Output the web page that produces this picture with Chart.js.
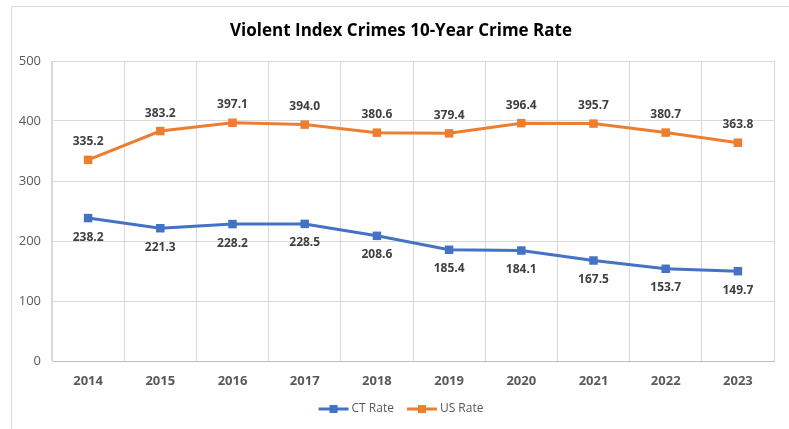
<!DOCTYPE html>
<html>
<head>
<meta charset="utf-8">
<script src="https://cdn.jsdelivr.net/npm/chart.js@4/dist/chart.umd.min.js"></script>
<style>
  html, body { margin: 0; padding: 0; background: #fff; }
  #wrap { position: relative; width: 789px; height: 429px; }
</style>
</head>
<body>
<div id="wrap"><canvas id="myChart" width="789" height="429"></canvas></div>
<script>
const years = ["2014", "2015", "2016", "2017", "2018", "2019", "2020", "2021", "2022", "2023"];
const ctRate = [238.2, 221.3, 228.2, 228.5, 208.6, 185.4, 184.1, 167.5, 153.7, 149.7];
const usRate = [335.2, 383.2, 397.1, 394.0, 380.6, 379.4, 396.4, 395.7, 380.7, 363.8];
const yTicks = [0, 100, 200, 300, 400, 500];

const blue = "#4472C4";
const orange = "#ED7D31";
const font = "'Open Sans', sans-serif";
const titleText = "Violent Index Crimes 10-Year Crime Rate";

// outer frame, title and legend drawn around the plot
const frame = {
  id: "frame",
  beforeDraw(chart) {
    const c = chart.ctx;
    c.save();
    c.fillStyle = "#fff";
    c.fillRect(0, 0, chart.width, chart.height);
    c.strokeStyle = "#d9d9d9";
    c.lineWidth = 1;
    c.beginPath();
    c.moveTo(11.5, chart.height);
    c.lineTo(11.5, 6.5);
    c.lineTo(chart.width, 6.5);
    c.stroke();
    c.restore();
  },
  afterDraw(chart) {
    const c = chart.ctx;
    const mid = 401;
    c.save();
    // title
    c.font = "bold 17px " + font;
    c.fillStyle = "#000";
    c.textAlign = "center";
    c.textBaseline = "middle";
    c.fillText(titleText, mid, 31);

    // legend: line + square swatch, then the series name
    c.font = "12px " + font;
    c.textAlign = "left";
    const sw = 30, gap = 3, between = 13, y = 409;
    const items = chart.data.datasets.map(ds => ({
      text: ds.label, color: ds.borderColor, w: c.measureText(ds.label).width
    }));
    let total = items.reduce((s, it) => s + sw + gap + it.w, 0) + between * (items.length - 1);
    let x = mid - total / 2;
    items.forEach(it => {
      c.strokeStyle = it.color;
      c.lineWidth = 3;
      c.beginPath();
      c.moveTo(x, y);
      c.lineTo(x + sw, y);
      c.stroke();
      c.fillStyle = it.color;
      c.fillRect(x + sw / 2 - 4, y - 4, 8, 8);
      c.fillStyle = "#595959";
      c.fillText(it.text, x + sw + gap, y);
      x += sw + gap + it.w + between;
    });
    c.restore();
  }
};

// value labels: above the orange points, below the blue ones
const valueLabels = {
  id: "valueLabels",
  afterDatasetsDraw(chart) {
    const c = chart.ctx;
    c.save();
    c.font = "bold 12px " + font;
    c.fillStyle = "#404040";
    c.textAlign = "center";
    c.textBaseline = "middle";
    chart.data.datasets.forEach((ds, i) => {
      const meta = chart.getDatasetMeta(i);
      meta.data.forEach((pt, j) => {
        const dy = ds.labelBelow ? 19 : -18;
        c.fillText(ds.data[j].toFixed(1), pt.x, pt.y + dy);
      });
    });
    c.restore();
  }
};

let ctx = document.getElementById("myChart").getContext("2d");
let myChart = new Chart(ctx, {
  type: "line",
  data: {
    labels: years,
    datasets: [
      {
        label: "CT Rate",
        data: ctRate,
        borderColor: blue,
        backgroundColor: blue,
        borderWidth: 3,
        pointStyle: "rect",
        pointRadius: 6,
        pointBorderWidth: 0,
        labelBelow: true,
      },
      {
        label: "US Rate",
        data: usRate,
        borderColor: orange,
        backgroundColor: orange,
        borderWidth: 3,
        pointStyle: "rect",
        pointRadius: 6,
        pointBorderWidth: 0,
        labelBelow: false,
      },
    ],
  },
  options: {
    responsive: false,
    animation: false,
    layout: { padding: { left: 12, right: 15, top: 61, bottom: 32 } },
    plugins: {
      title: { display: false },
      legend: { display: false },
      tooltip: { enabled: false },
    },
    scales: {
      x: {
        offset: true,
        grid: { offset: true, color: "#d9d9d9", drawTicks: false },
        border: { color: "#bfbfbf" },
        ticks: {
          padding: 12,
          color: "#595959",
          font: { family: font, size: 13, weight: "bold" },
        },
        afterFit(scale) { scale.height = 36; },
      },
      y: {
        min: 0,
        max: 500,
        afterBuildTicks(scale) { scale.ticks = yTicks.map(v => ({ value: v })); },
        grid: { color: "#d9d9d9", drawTicks: false },
        border: { color: "#d9d9d9" },
        ticks: {
          padding: 11,
          color: "#595959",
          font: { family: font, size: 13 },
        },
        afterFit(scale) { scale.width = 40; },
      },
    },
  },
  plugins: [frame, valueLabels],
});
</script>
</body>
</html>
